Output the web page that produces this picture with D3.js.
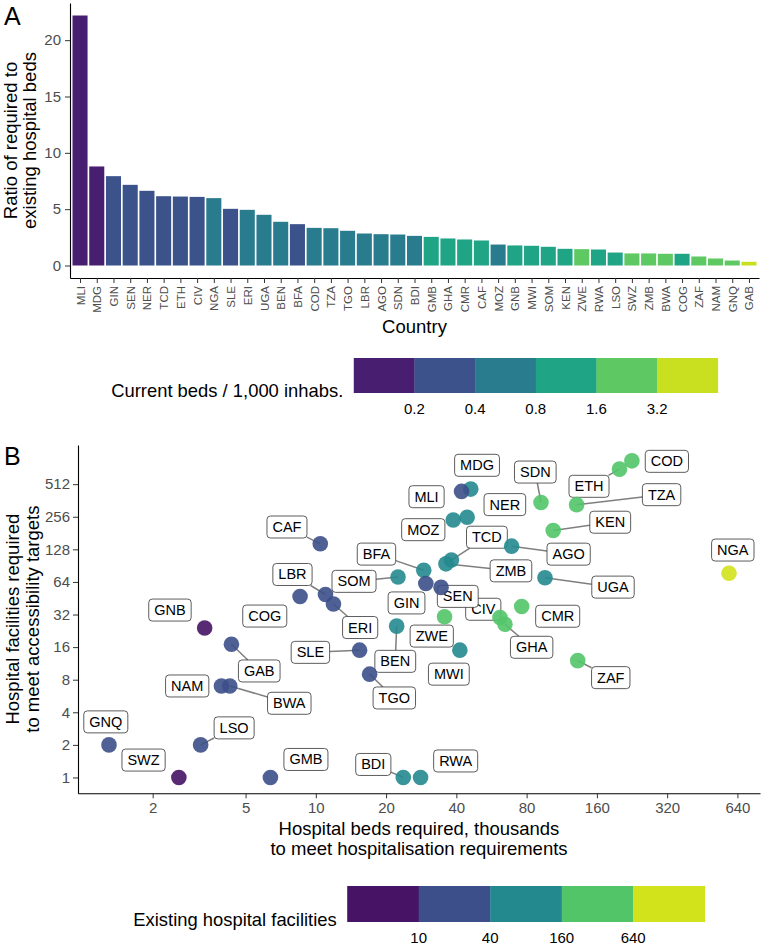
<!DOCTYPE html>
<html><head><meta charset="utf-8">
<script src="https://cdn.jsdelivr.net/npm/d3@7"></script>
<style>body{margin:0;background:#fff} svg{display:block}</style>
</head><body><svg id="c" width="762" height="947"></svg>
<script>
// ---------------- DATA ----------------
// Panel A
const countries = ["MLI","MDG","GIN","SEN","NER","TCD","ETH","CIV","NGA","SLE","ERI","UGA","BEN","BFA","COD","TZA","TGO","LBR","AGO","SDN","BDI","GMB","GHA","CMR","CAF","MOZ","GNB","MWI","SOM","KEN","ZWE","RWA","LSO","SWZ","ZMB","BWA","COG","ZAF","NAM","GNQ","GAB"];
const ratio = [22.19,8.79,7.93,7.16,6.63,6.15,6.12,6.09,5.98,5.03,4.94,4.50,3.88,3.67,3.34,3.31,3.08,2.84,2.78,2.75,2.63,2.54,2.40,2.31,2.22,1.86,1.78,1.75,1.66,1.48,1.45,1.42,1.15,1.07,1.07,1.04,1.04,0.80,0.62,0.44,0.33];
const bedsPer1000 = [0.10,0.18,0.30,0.30,0.32,0.35,0.33,0.38,0.50,0.36,0.70,0.50,0.50,0.38,0.78,0.70,0.70,0.75,0.78,0.74,0.79,1.10,0.90,1.30,1.00,0.70,1.00,1.30,0.87,1.40,1.70,1.50,1.30,2.10,2.00,1.80,1.45,2.30,2.70,2.10,6.30];
const bedsBreaks = [0.2,0.4,0.8,1.6,3.2];
const bedsBreakLabels = ["0.2","0.4","0.8","1.6","3.2"];
const ratioTicks = [0,5,10,15,20];

// Panel B
const scatterCountries = ["AGO","BDI","BEN","BFA","BWA","CAF","CIV","CMR","COD","COG","ERI","ETH","GAB","GHA","GIN","GMB","GNB","GNQ","KEN","LBR","LSO","MDG","MLI","MOZ","MWI","NAM","NER","NGA","RWA","SDN","SEN","SLE","SOM","SWZ","TCD","TGO","TZA","UGA","ZAF","ZMB","ZWE"];
const bedsRequired = [69.0,23.7,22.2,29.0,4.28,10.45,61.5,76.2,226,8.56,11.9,200,4.35,64.6,29.6,6.39,3.34,1.30,104,11.0,3.21,46.1,42.1,38.8,41.4,3.94,44.5,589,28.1,92.2,34.4,15.4,22.5,2.59,38.1,17.0,131,95.9,132.5,36.1,35.6];
const facilitiesRequired = [137,1,25,82,7,144,30,38,841,47,40,705,17,26,62,1,24,2,191,49,2,461,439,239,15,7,253,77,1,347,57,15,71,1,102,9,331,70,12,94,30.5];
const existingFacilities = [140,70,75,90,33,15,200,250,450,20,20,330,16,300,35,12,5,18,500,22,20,100,25,70,75,30,60,1500,55,380,36,30,50,8,60,32,270,150,400,110,200];
const facBreaks = [10,40,160,640];
const facBreakLabels = ["10","40","160","640"];
const xTicksB = [2,5,10,20,40,80,160,320,640];
const yTicksB = [1,2,4,8,16,32,64,128,256,512];

// ---------------- LAYOUT (label placement, px offsets from point) ----------------
const labelLayout = {
  AGO:[57,8,1],BDI:[-30,-13,1],BEN:[-1.4,35.2,1],BFA:[-47.3,-16.2,1],BWA:[59.5,17.3,1],
  CAF:[-33.3,-16.8,1],CIV:[-16.7,-8.3,0],CMR:[36,9.8,0],COD:[35,0.5,0],COG:[-35.3,19.6,0],
  ERI:[26.7,23.5,1],ETH:[-30.5,17.2,1],GAB:[27.8,26.7,1],GHA:[26.7,23,1],GIN:[-19.3,19.5,0],
  GMB:[35.5,-18,0],GNB:[-34.7,-18,0],GNQ:[-3.2,-23,0],KEN:[57,-8.3,1],LBR:[-33,-20,1],
  LSO:[33.5,-17,1],MDG:[6.3,-23.8,0],MLI:[-35,5.3,0],MOZ:[-30,9.7,0],MWI:[-11,24,0],
  NAM:[-34.2,0,0],NER:[37.7,-12.7,0],NGA:[3.8,-23.2,0],RWA:[35.1,-16.5,0],SDN:[-5.7,-30.4,1],
  SEN:[16.7,9,0],SLE:[-49.2,2.2,1],SOM:[-44,4.3,1],SWZ:[-35.3,-17.4,0],TCD:[35.5,-22.8,1],
  TGO:[24.7,23.8,1],TZA:[85,-10,1],UGA:[68,9.4,1],ZAF:[33,17,1],ZMB:[65,7,1],ZWE:[-12.8,19.3,0]
};

const FONT = '"Liberation Sans", Arial, Helvetica, sans-serif';
const svg = d3.select("#c");
svg.append("rect").attr("width",762).attr("height",947).attr("fill","#fff");

function styleAxis(g){
  g.attr("font-family",FONT).attr("font-size",15);
  g.select(".domain").attr("stroke","#000").attr("stroke-width",1.1);
  g.selectAll(".tick line").attr("stroke","#333").attr("stroke-width",1);
  g.selectAll(".tick text").attr("fill","#4d4d4d");
}

// ---------------- PANEL A ----------------
const A = {left:70,right:759,top:3,bottom:278};
const xA = d3.scalePoint().domain(countries).range([A.left,A.right]).padding(0.6);
const maxR = d3.max(ratio);
const yA = d3.scaleLinear().domain([-0.05*maxR,1.05*maxR]).range([A.bottom,A.top]);
const bedsColors = d3.range(6).map(i=>d3.interpolateViridis((i+0.5)/6));
const colA = d3.scaleThreshold().domain(bedsBreaks).range(bedsColors);
const bw = xA.step()*0.9;
const gA = svg.append("g");
gA.selectAll("rect.bar").data(countries).join("rect").attr("class","bar")
  .attr("x",d=>xA(d)-bw/2).attr("width",bw)
  .attr("y",(d,i)=>yA(ratio[i])).attr("height",(d,i)=>yA(0)-yA(ratio[i]))
  .attr("fill",(d,i)=>colA(bedsPer1000[i]));

const axAy = gA.append("g").attr("transform",`translate(${A.left},0)`)
  .call(d3.axisLeft(yA).tickValues(ratioTicks).tickSize(5).tickSizeOuter(0).tickPadding(4));
styleAxis(axAy);
const axAx = gA.append("g").attr("transform",`translate(0,${A.bottom})`)
  .call(d3.axisBottom(xA).tickSize(5).tickSizeOuter(0));
styleAxis(axAx);
axAx.selectAll(".tick text").attr("font-size",11.5).attr("transform","rotate(-90)")
  .attr("text-anchor","end").attr("x",-8).attr("y",0).attr("dy","0.35em");

gA.append("text").attr("x",(A.left+A.right)/2).attr("y",333).attr("text-anchor","middle")
  .attr("font-family",FONT).attr("font-size",18.5).text("Country");
const ytA = gA.append("g").attr("font-family",FONT).attr("font-size",18.5).attr("text-anchor","middle");
ytA.append("text").attr("transform",`translate(17,${(A.top+A.bottom)/2}) rotate(-90)`).text("Ratio of required to");
ytA.append("text").attr("transform",`translate(36,${(A.top+A.bottom)/2}) rotate(-90)`).text("existing hospital beds");
svg.append("text").attr("x",4).attr("y",25).attr("font-family",FONT).attr("font-size",25).text("A");

// ---------------- LEGEND helper ----------------
function legend(title, colors, labels, centerX, barTop, barH, swW){
  const g = svg.append("g").attr("font-family",FONT);
  const t = g.append("text").attr("font-size",18.4).attr("dominant-baseline","central").text(title);
  const tw = t.node().getComputedTextLength();
  const gap = 10.5;
  const total = tw + gap + swW*colors.length;
  const left = centerX - total/2;
  const barLeft = left + tw + gap;
  t.attr("x",left).attr("y",barTop+barH-3);
  g.selectAll("rect").data(colors).join("rect")
    .attr("x",(d,i)=>barLeft+i*swW).attr("y",barTop).attr("width",swW+0.3).attr("height",barH).attr("fill",d=>d);
  g.selectAll("text.lab").data(labels).join("text").attr("class","lab")
    .attr("x",(d,i)=>barLeft+(i+1)*swW).attr("y",barTop+barH+15).attr("text-anchor","middle")
    .attr("dominant-baseline","central").attr("font-size",15).attr("fill","#000").text(d=>d);
}
legend("Current beds / 1,000 inhabs.", bedsColors, bedsBreakLabels, (A.left+A.right)/2, 358, 35, 60.67);

// ---------------- PANEL B ----------------
const B = {left:78,right:760,top:445,bottom:793.3};
const lx = d3.extent(bedsRequired).map(Math.log2), ex=(lx[1]-lx[0])*0.05;
const ly = d3.extent(facilitiesRequired).map(Math.log2), ey=(ly[1]-ly[0])*0.05;
const xB = d3.scaleLog().base(2).domain([2**(lx[0]-ex),2**(lx[1]+ex)]).range([B.left,B.right]);
const yB = d3.scaleLog().base(2).domain([2**(ly[0]-ey),2**(ly[1]+ey)]).range([B.bottom,B.top]);
const facColors = [0.05,0.24,0.47,0.73,0.93].map(t=>d3.interpolateViridis(t));
const colB = d3.scaleThreshold().domain(facBreaks).range(facColors);
const gB = svg.append("g");
const axBx = gB.append("g").attr("transform",`translate(0,${B.bottom})`)
  .call(d3.axisBottom(xB).tickValues(xTicksB).tickFormat(d=>String(d)).tickSize(5).tickSizeOuter(0).tickPadding(4));
styleAxis(axBx);
const axBy = gB.append("g").attr("transform",`translate(${B.left},0)`)
  .call(d3.axisLeft(yB).tickValues(yTicksB).tickFormat(d=>String(d)).tickSize(5).tickSizeOuter(0).tickPadding(3));
styleAxis(axBy);

const pts = scatterCountries.map((c,i)=>({c, x:xB(bedsRequired[i]), y:yB(facilitiesRequired[i]), col:colB(existingFacilities[i])}));
const gSeg = gB.append("g"), gLab = gB.append("g"), gPts = gB.append("g");
pts.forEach(p=>{
  const L = labelLayout[p.c];
  const cx = p.x+L[0], cy = p.y+L[1];
  const lg = gLab.append("g").attr("font-family",FONT);
  const t = lg.append("text").attr("x",cx).attr("y",cy).attr("text-anchor","middle")
    .attr("dominant-baseline","central").attr("font-size",14.5).attr("fill","#000").text(p.c);
  const tw = t.node().getComputedTextLength();
  const hw = tw/2+5.5, hh = 11;
  lg.insert("rect","text").attr("x",cx-hw).attr("y",cy-hh).attr("width",2*hw).attr("height",2*hh)
    .attr("rx",3.5).attr("fill","#fff").attr("stroke","#333").attr("stroke-width",0.8);
  if(L[2]){
    const dx=p.x-cx, dy=p.y-cy;
    const s=Math.min(dx!==0?hw/Math.abs(dx):Infinity, dy!==0?hh/Math.abs(dy):Infinity);
    gSeg.append("line").attr("x1",p.x).attr("y1",p.y).attr("x2",cx+dx*s).attr("y2",cy+dy*s)
      .attr("stroke","#7f7f7f").attr("stroke-width",1.5);
  }
});
gPts.selectAll("circle").data(pts).join("circle")
  .attr("cx",d=>d.x).attr("cy",d=>d.y).attr("r",7.8).attr("fill",d=>d.col).attr("fill-opacity",0.9);

const xtB = gB.append("g").attr("font-family",FONT).attr("font-size",18.5).attr("text-anchor","middle");
xtB.append("text").attr("x",(B.left+B.right)/2).attr("y",835).text("Hospital beds required, thousands");
xtB.append("text").attr("x",(B.left+B.right)/2).attr("y",855).text("to meet hospitalisation requirements");
const ytB = gB.append("g").attr("font-family",FONT).attr("font-size",18.5).attr("text-anchor","middle");
ytB.append("text").attr("transform",`translate(18.5,${(B.top+B.bottom)/2}) rotate(-90)`).text("Hospital facilities required");
ytB.append("text").attr("transform",`translate(38.5,${(B.top+B.bottom)/2}) rotate(-90)`).text("to meet accessibility targets");
svg.append("text").attr("x",4).attr("y",465).attr("font-family",FONT).attr("font-size",25).text("B");

legend("Existing hospital facilities", facColors, facBreakLabels, (B.left+B.right)/2, 886, 36, 71.5);
</script></body></html>
